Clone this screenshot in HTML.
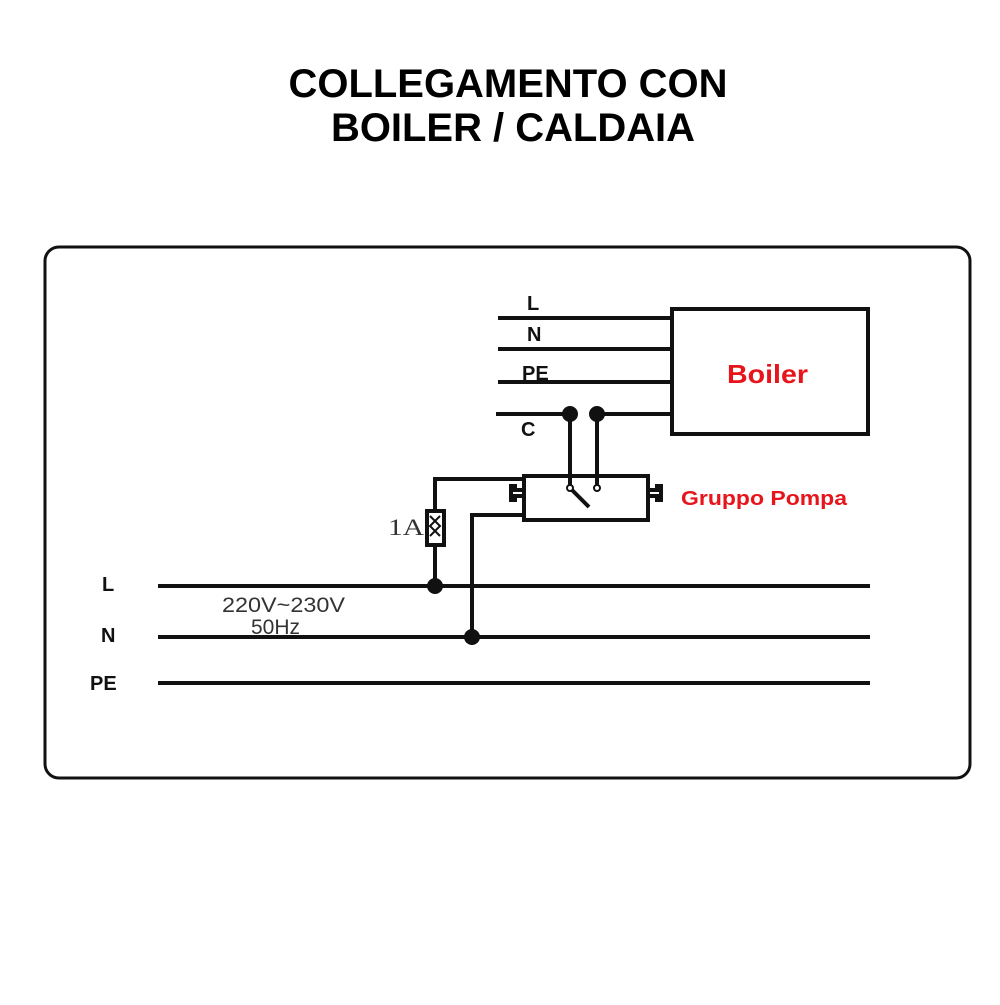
<!DOCTYPE html>
<html><head><style>body{margin:0;background:#fff}</style></head><body>
<svg width="1000" height="1000" xmlns="http://www.w3.org/2000/svg" font-family="Liberation Sans, sans-serif">
<text x="508" y="97" font-size="40" font-weight="bold" text-anchor="middle" textLength="439" lengthAdjust="spacingAndGlyphs">COLLEGAMENTO CON</text>
<text x="513" y="141" font-size="40" font-weight="bold" text-anchor="middle" textLength="364" lengthAdjust="spacingAndGlyphs">BOILER / CALDAIA</text>
<rect x="45" y="247" width="925" height="531" rx="14" fill="none" stroke="#111" stroke-width="3"/>
<g stroke="#111" stroke-width="4" fill="none">
<line x1="498" y1="318" x2="672" y2="318"/>
<line x1="498" y1="349" x2="672" y2="349"/>
<line x1="498" y1="382" x2="672" y2="382"/>
<line x1="496" y1="414" x2="570" y2="414"/>
<line x1="597" y1="414" x2="672" y2="414"/>
<rect x="672" y="309" width="196" height="125"/>
<line x1="570" y1="414" x2="570" y2="488"/>
<line x1="597" y1="414" x2="597" y2="488"/>
<line x1="571" y1="489" x2="589" y2="507"/>
<rect x="524" y="476" width="124" height="44"/>
<path d="M524 490 h-9 v-4 h-4 v14 h4 v-4 h9"/>
<path d="M648 490 h9 v-4 h4 v14 h-4 v-4 h-9"/>
<polyline points="524,479 435,479 435,511"/>
<rect x="427" y="511" width="17" height="34"/>
<line x1="435" y1="545" x2="435" y2="586"/>
<polyline points="524,515 472,515 472,637"/>
<line x1="158" y1="586" x2="870" y2="586"/>
<line x1="158" y1="637" x2="870" y2="637"/>
<line x1="158" y1="683" x2="870" y2="683"/>
</g>
<path d="M430 516 l10 10 l-10 10 M440 516 l-10 10 l10 10" stroke="#111" stroke-width="2" fill="none"/>
<g fill="#111">
<circle cx="570" cy="414" r="8"/><circle cx="597" cy="414" r="8"/>
<circle cx="435" cy="586" r="8"/><circle cx="472" cy="637" r="8"/>
</g>
<circle cx="570" cy="488" r="3" fill="#fff" stroke="#111" stroke-width="2"/>
<circle cx="597" cy="488" r="3" fill="#fff" stroke="#111" stroke-width="2"/>
<g font-size="20" font-weight="bold" fill="#111">
<text x="527" y="310">L</text><text x="527" y="341">N</text>
<text x="522" y="380">PE</text><text x="521" y="436">C</text>
<text x="102" y="591">L</text><text x="101" y="642">N</text><text x="90" y="690">PE</text>
</g>
<text x="727" y="383" font-size="26" font-weight="bold" fill="#e8141b" textLength="81" lengthAdjust="spacingAndGlyphs">Boiler</text>
<text x="681" y="505" font-size="20" font-weight="bold" fill="#e8141b" textLength="166" lengthAdjust="spacingAndGlyphs">Gruppo Pompa</text>
<text x="388" y="535" font-size="23" font-family="Liberation Serif, serif" fill="#333" textLength="36" lengthAdjust="spacingAndGlyphs">1A</text>
<text x="222" y="612" font-size="21" fill="#333" textLength="123" lengthAdjust="spacingAndGlyphs">220V~230V</text>
<text x="251" y="634" font-size="21" fill="#333">50Hz</text>
</svg>
</body></html>
